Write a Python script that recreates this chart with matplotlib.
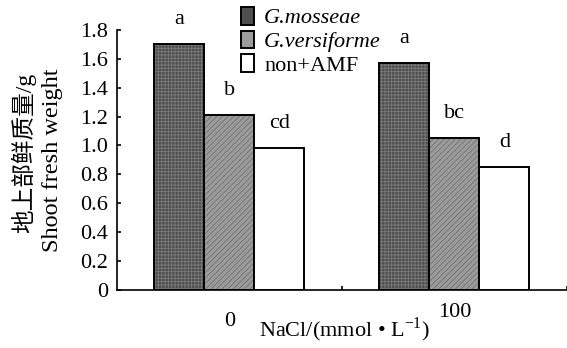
import matplotlib
matplotlib.use("Agg")
import matplotlib.pyplot as plt
import matplotlib.patches as mpatches
import numpy as np

plt.rcParams['font.family'] = ['Liberation Serif', 'Noto Sans CJK SC']
plt.rcParams['mathtext.fontset'] = 'custom'
plt.rcParams['mathtext.rm'] = 'Liberation Serif'
plt.rcParams['hatch.linewidth'] = 0.6

# data
nacl = ['0', '100']
series = ['G.mosseae', 'G.versiforme', 'non+AMF']
values = {
    'G.mosseae':    [1.70, 1.57],
    'G.versiforme': [1.21, 1.05],
    'non+AMF':      [0.98, 0.85],
}
letters = {
    'G.mosseae':    ['a', 'a'],
    'G.versiforme': ['b', 'bc'],
    'non+AMF':      ['cd', 'd'],
}

faces = ['#4e4e4e', '#9c9c9c', 'white']
hatch_cols = ['#7a7a7a', '#707070', 'white']
hatches = ['+++++', '//////', None]

fig = plt.figure(figsize=(5.67, 3.48), dpi=100)
ax = fig.add_axes([0.206, 0.167, 0.794, 0.747])

x = np.arange(len(nacl)) + 0.5
w = 0.222
handles = []
for i, s in enumerate(series):
    xs = x + (i - 1) * w
    # texture first, black outline on top
    ax.bar(xs, values[s], w, color=faces[i], edgecolor=hatch_cols[i],
           linewidth=0, hatch=hatches[i])
    bars = ax.bar(xs, values[s], w, fill=False, edgecolor='black', linewidth=1.4)
    for b, lab in zip(bars, letters[s]):
        ax.annotate(lab, (b.get_x() + b.get_width() / 2, b.get_height()),
                    xytext=(0, 11), textcoords='offset points',
                    ha='center', va='bottom', fontsize=16)
    handles.append(mpatches.Patch(facecolor=faces[i], edgecolor='black',
                                  linewidth=1.4, label=s))

ax.set_xlim(0, 2)
ax.set_ylim(0, 1.8)
ax.set_yticks(np.arange(0, 1.81, 0.2))
ax.set_yticklabels(['0'] + ['%.1f' % v for v in np.arange(0.2, 1.81, 0.2)])
ax.set_xticks([1, 2])
ax.set_xticklabels([])
ax.tick_params(direction='in', length=3, width=1.2, labelsize=16, pad=6)
ax.spines['top'].set_visible(False)
ax.spines['right'].set_visible(False)
for sp in ['left', 'bottom']:
    ax.spines[sp].set_linewidth(1.2)

# category labels (the reference sets them at different heights)
ax.text(x[0], -0.22, nacl[0], ha='center', va='center', fontsize=16)
ax.text(x[1], -0.155, nacl[1], ha='center', va='center', fontsize=16)
fig.text(0.607, 0.012, 'NaCl/(mmol • L$^{-1}$)', ha='center', va='bottom', fontsize=16)

fig.text(0.042, 0.56, '地上部鲜质量/g', rotation=90, ha='center', va='center', fontsize=17)
fig.text(0.093, 0.54, 'Shoot fresh weight', rotation=90, ha='center', va='center', fontsize=17.5)

leg = fig.legend(handles=handles, loc='upper left', bbox_to_anchor=(0.405, 1.012),
                 frameon=False, fontsize=16, handlelength=0.6, handleheight=0.85,
                 handletextpad=0.45, labelspacing=0.1, borderpad=0)
leg.get_texts()[0].set_style('italic')
leg.get_texts()[1].set_style('italic')

fig.savefig('out.png', dpi=100)
